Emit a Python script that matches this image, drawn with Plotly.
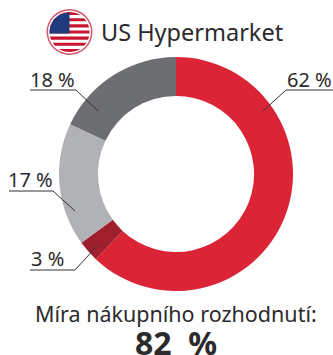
import math
import plotly.graph_objects as go

labels = ["Red share", "Dark red share", "Light grey share", "Grey share"]
values = [62, 3, 17, 18]
colors = ["#DB2536", "#A01F2D", "#B1B2B6", "#6D6E72"]
pct_labels = ["62 %", "3 %", "17 %", "18 %"]
title = "US Hypermarket"
subtitle = "Míra nákupního rozhodnutí:"
headline = "82\u00a0\u00a0%"

W, H = 333, 355
INK = "#2B2A2C"
FONT = "Noto Sans"

fig = go.Figure()
fig.add_trace(go.Pie(
    labels=labels, values=values, hole=0.667, sort=False, direction="clockwise",
    rotation=0, marker=dict(colors=colors, line=dict(width=0)), textinfo="none",
    hoverinfo="label+percent", showlegend=False,
    domain=dict(x=[59/W, 293/W], y=[1-291/H, 1-57/H]),
))

shapes = []
def add_path(d, fill):
    shapes.append(dict(type="path", path=d, fillcolor=fill, line=dict(width=0),
                       xref="x", yref="y", layer="above"))

# flag
cx, cy, r = 69.5, 32.0, 20.0
shapes.append(dict(type="circle", xref="x", yref="y", x0=cx-23, x1=cx+23, y0=cy-23, y1=cy+23,
                   fillcolor="#D5566B", line=dict(width=0)))
shapes.append(dict(type="circle", xref="x", yref="y", x0=cx-21.5, x1=cx+21.5, y0=cy-21.5, y1=cy+21.5,
                   fillcolor="#FFFFFF", line=dict(width=0)))

def clipped_band(y0, y1, xmax=None):
    left, right = [], []
    n = 6
    for i in range(n + 1):
        y = y0 + (y1 - y0) * i / n
        dx = math.sqrt(max(r*r - (y - cy)**2, 0))
        xr = cx + dx if xmax is None else min(cx + dx, xmax)
        left.append((cx - dx, y))
        right.append((xr, y))
    pts = left + right[::-1]
    return "M " + " L ".join(f"{a:.2f},{b:.2f}" for a, b in pts) + " Z"

top, h = cy - r, 2 * r / 13
for i in range(0, 13, 2):
    add_path(clipped_band(top + i*h, top + (i+1)*h), "#C8142F")
add_path(clipped_band(top, top + 7*h, xmax=cx), "#1F3A7D")

# leader lines
leaders = [
    [(30, 90), (76, 90), (98, 111)],
    [(333, 90), (286, 90), (263, 111)],
    [(9, 191), (53, 191), (75, 211)],
    [(30, 270), (75, 270), (97, 246)],
]
for pts in leaders:
    d = "M " + " L ".join(f"{a},{b}" for a, b in pts)
    shapes.append(dict(type="path", path=d, xref="x", yref="y", layer="above",
                       line=dict(color="#333333", width=1)))

sx, sy = [], []
for row in range(5):
    for col in range(5):
        sx.append(cx - 17 + col * 3.6 + (1.8 if row % 2 else 0))
        sy.append(15 + row * 3.6)
fig.add_trace(go.Scatter(x=sx, y=sy, mode="markers", hoverinfo="skip", showlegend=False,
                         marker=dict(color="white", size=1.8, symbol="circle"), xaxis="x", yaxis="y"))

def txt(x, y, s, size, anchor="center", bold=False, font=FONT):
    fig.add_annotation(x=x, y=y, xref="x", yref="y", text=f"<b>{s}</b>" if bold else s,
                       showarrow=False, xanchor=anchor, yanchor="middle",
                       font=dict(family=font, size=size, color=INK))

txt(192, 32, title, 23.5)
txt(52, 79, pct_labels[3], 20)
txt(309, 79, pct_labels[0], 20)
txt(30, 179, pct_labels[2], 20)
txt(47, 258, pct_labels[1], 20)
txt(176, 313, subtitle, 21.5)
txt(176, 342, headline, 32, bold=True)

fig.update_layout(
    width=W, height=H, margin=dict(l=0, r=0, t=0, b=0),
    paper_bgcolor="white", plot_bgcolor="rgba(0,0,0,0)", shapes=shapes,
    xaxis=dict(range=[0, W], visible=False, domain=[0, 1], fixedrange=True),
    yaxis=dict(range=[H, 0], visible=False, domain=[0, 1], fixedrange=True),
)
fig.write_html("out.html", config=dict(displayModeBar=False),
               post_script="document.body.style.margin='0';document.body.style.overflow='hidden';")
